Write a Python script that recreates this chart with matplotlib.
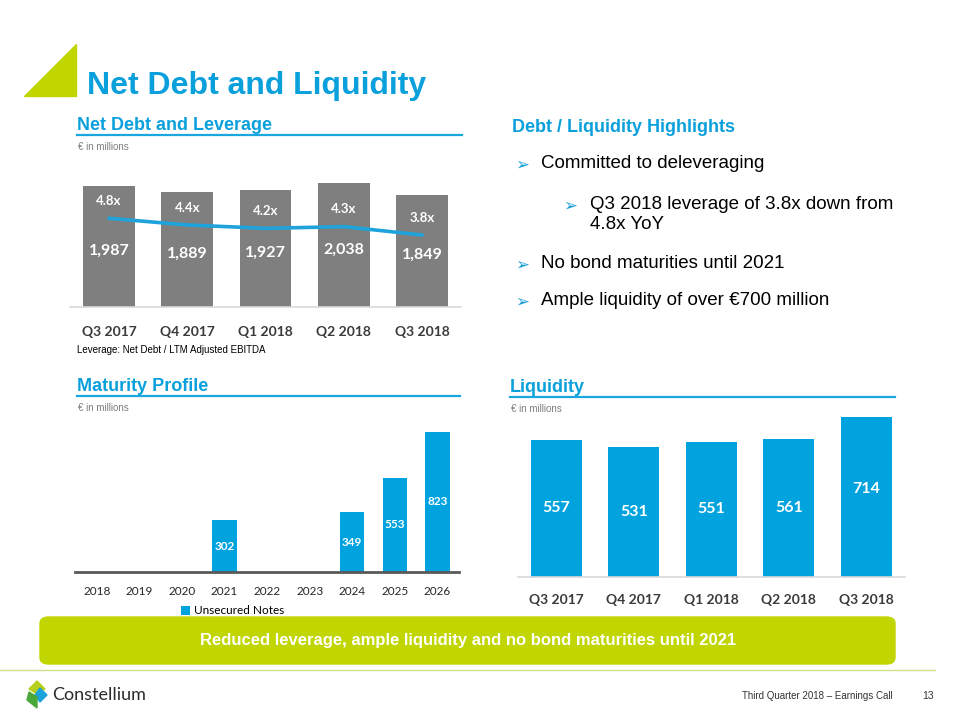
import matplotlib
matplotlib.use("Agg")
import matplotlib.pyplot as plt
from matplotlib.patches import Polygon, FancyBboxPatch
from matplotlib.lines import Line2D

# ---- data ----
quarters = ["Q3 2017", "Q4 2017", "Q1 2018", "Q2 2018", "Q3 2018"]
net_debt = [1987, 1889, 1927, 2038, 1849]
leverage = [4.8, 4.4, 4.2, 4.3, 3.8]

years = ["2018", "2019", "2020", "2021", "2022", "2023", "2024", "2025", "2026"]
unsecured_notes = [0, 0, 0, 302, 0, 0, 349, 553, 823]

liquidity = [557, 531, 551, 561, 714]

highlights = [
    (0, "Committed to deleveraging"),
    (1, "Q3 2018 leverage of 3.8x down from\n4.8x YoY"),
    (0, "No bond maturities until 2021"),
    (0, "Ample liquidity of over €700 million"),
]

BLUE = "#0aa0dc"
BAR_BLUE = "#00a3de"
GRAY = "#7f7f7f"
LIME = "#c1d500"
W, H = 960, 720


def fx(x):
    return x / W


def fy(y):
    return 1 - y / H


def axes_px(fig, left, top, right, bottom):
    return fig.add_axes([fx(left), fy(bottom), (right - left) / W, (bottom - top) / H])


def clean(ax):
    for s in ax.spines.values():
        s.set_visible(False)
    ax.set_yticks([])
    ax.tick_params(axis="x", length=0)


fig = plt.figure(figsize=(9.6, 7.2), dpi=100)

# ---- slide title ----
fig.patches.append(Polygon([(fx(76), fy(44)), (fx(76), fy(96)), (fx(24), fy(96))],
                           closed=True, transform=fig.transFigure, color=LIME))
fig.text(fx(87), fy(86), "Net Debt and Liquidity", family="Liberation Sans",
         weight="bold", size=23, color=BLUE, va="center")


def section(x0, x1, y, title, sub=True):
    fig.text(fx(x0), fy(y), title, family="Liberation Sans", weight="bold",
             size=13, color=BLUE, va="baseline")
    fig.add_artist(Line2D([fx(x0), fx(x1)], [fy(y + 5), fy(y + 5)], color="#1aa6df", lw=1.6))
    if sub:
        fig.text(fx(x0 + 1), fy(y + 17), "€ in millions", family="Liberation Sans",
                 size=7, color="#7f7f7f", va="center")


section(77, 462, 130, "Net Debt and Leverage")
section(77, 460, 391, "Maturity Profile")
section(510, 895, 392, "Liquidity")

# ---- net debt and leverage ----
ax = axes_px(fig, 69.8, 170, 461.3, 307.3)
x = range(len(quarters))
ax.bar(x, net_debt, width=0.66, color=GRAY)
ax.set_xlim(-0.5, 4.5)
ax.set_ylim(0, 2251)
clean(ax)
ax.axhline(0, color="#d9d9d9", lw=1.2, clip_on=False)
ax.set_xticks(list(x))
ax.set_xticklabels(quarters, family="Lato", weight="bold", size=10, color="#3a3a3a")
ax.tick_params(axis="x", pad=13.5)
for i, v in enumerate(net_debt):
    ax.annotate(f"{v:,}", (i, v / 2), xytext=(0, -3), textcoords="offset points",
                ha="center", va="center", family="Lato", weight="bold", size=11.5, color="white")

ax2 = ax.twinx()
ax2.plot(list(x), leverage, color="#1ea3dc", lw=2.6, solid_capstyle="round")
ax2.set_ylim(-0.529, 7.692)
clean(ax2)
for i, v in enumerate(leverage):
    ax2.annotate(f"{v}x", (i, v), xytext=(0, 12.5), textcoords="offset points",
                 ha="center", va="center", family="Lato", weight="bold", size=9.5, color="white")

fig.text(fx(77), fy(350), "Leverage: Net Debt / LTM Adjusted EBITDA",
         family="Liberation Sans", size=7, color="black", va="center")

# ---- highlights ----
fig.text(fx(512), fy(127), "Debt / Liquidity Highlights", family="Liberation Sans",
         weight="bold", size=13, color=BLUE, va="center")
rows_y = [165, 206, 265, 302]
for (lvl, txt), y in zip(highlights, rows_y):
    ax_x = 515 + 48 * lvl
    tx = 541 + 49 * lvl
    fig.text(fx(ax_x), fy(y), "➢", family="DejaVu Sans", size=12, color="#1a9fd9", va="center")
    fig.text(fx(tx), fy(y - 10), txt, family="Liberation Sans", size=13.5, color="black",
             va="top", linespacing=1.25)

# ---- maturity profile ----
axm = axes_px(fig, 75.4, 420, 458.8, 571.7)
xm = range(len(years))
axm.bar(xm, unsecured_notes, width=0.57, color=BAR_BLUE, label="Unsecured Notes")
axm.set_xlim(-0.5, 8.5)
axm.set_ylim(0, 893)
clean(axm)
axm.axhline(0, color="#595959", lw=2, clip_on=False)
axm.set_xticks(list(xm))
axm.set_xticklabels(years, family="Lato", size=8.5, color="#262626")
axm.tick_params(axis="x", pad=10.5)
for i, v in enumerate(unsecured_notes):
    if v:
        axm.text(i, v / 2, str(v), ha="center", va="center", family="Lato",
                 weight="bold", size=8.5, color="white")
axm.legend(loc="upper center", bbox_to_anchor=(0.41, -0.19), frameon=False,
           handlelength=0.8, handleheight=0.8, handletextpad=0.3,
           prop={"family": "Lato", "size": 8.5}, borderaxespad=0)

# ---- liquidity ----
axl = axes_px(fig, 517.5, 416.7, 905, 576.7)
axl.bar(list(x), liquidity, width=0.66, color=BAR_BLUE)
axl.set_xlim(-0.5, 4.5)
axl.set_ylim(0, 653)
clean(axl)
axl.axhline(0, color="#d9d9d9", lw=1.2, clip_on=False)
axl.set_xticks(list(x))
axl.set_xticklabels(quarters, family="Lato", weight="bold", size=10, color="#3a3a3a")
axl.tick_params(axis="x", pad=12.5)
for i, v in enumerate(liquidity):
    axl.annotate(str(v), (i, v / 2), ha="center", va="center", family="Lato",
                 weight="bold", size=11.5, color="white", annotation_clip=False)

# ---- banner ----
fig.patches.append(FancyBboxPatch((fx(40), fy(664)), (895 - 40) / W, (664 - 617) / H,
                                  boxstyle="round,pad=0,rounding_size=0.009",
                                  transform=fig.transFigure, color=LIME))
fig.text(fx(468), fy(640), "Reduced leverage, ample liquidity and no bond maturities until 2021",
         family="Liberation Sans", weight="bold", size=12, color="white",
         ha="center", va="center")
fig.add_artist(Line2D([0, fx(935)], [fy(670), fy(670)], color="#d2df8a", lw=1))

# ---- footer ----
logo = [
    ([(37, 681), (45, 689), (37, 694), (29, 689)], "#b5cf1a"),
    ([(40, 688), (47, 695), (40, 702), (35, 695)], "#1ca3dc"),
    ([(29, 692), (37, 697), (37, 708), (27, 700)], "#4aa83a"),
]
for pts, col in logo:
    fig.patches.append(Polygon([(fx(a), fy(b)) for a, b in pts], closed=True,
                               transform=fig.transFigure, color=col))
fig.text(fx(52), fy(695), "Constellium", family="Lato", size=13, color="#2b2b2b", va="center")
fig.text(fx(742), fy(696), "Third Quarter 2018 – Earnings Call", family="Liberation Sans",
         size=7, color="#333333", va="center")
fig.text(fx(922), fy(696), "13", family="Liberation Sans", size=7.5, color="#333333", va="center")

fig.savefig("out.png", dpi=100, facecolor="white")
